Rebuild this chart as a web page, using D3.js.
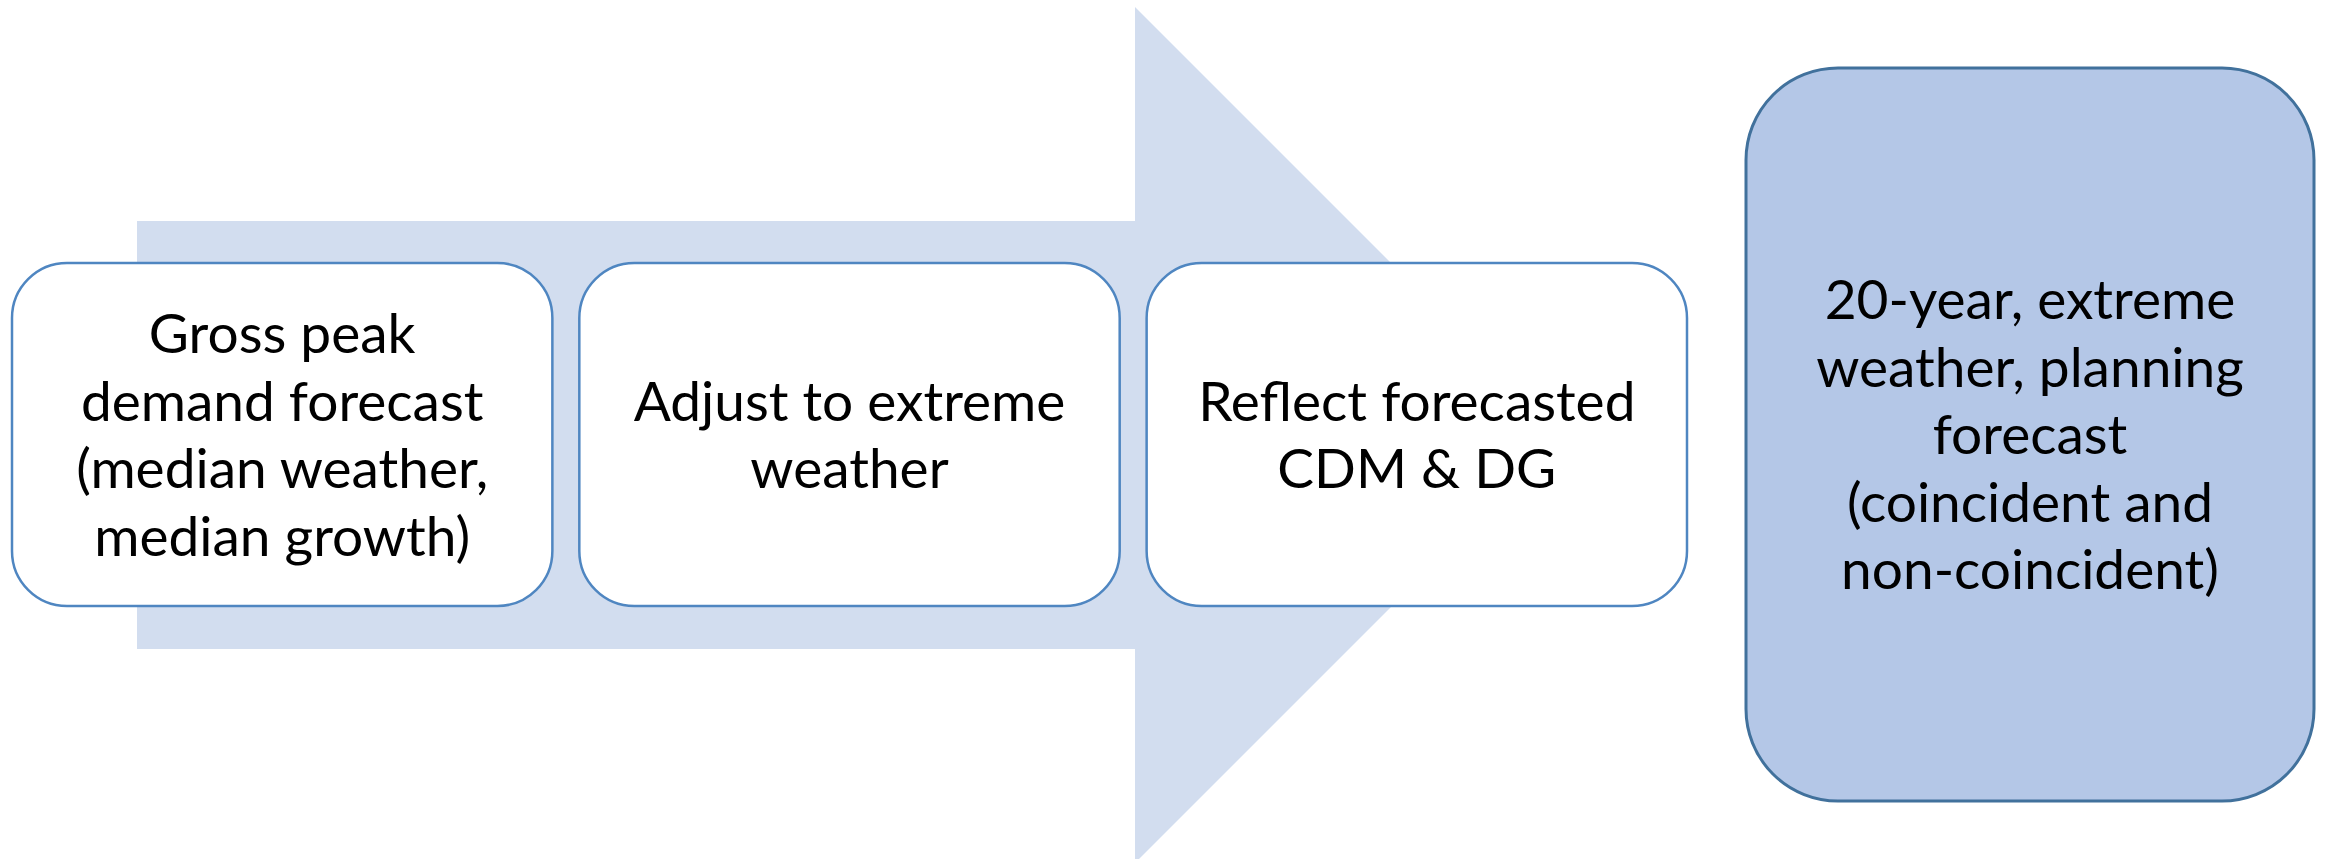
<!DOCTYPE html>
<html>
<head>
<meta charset="utf-8">
<script src="https://cdn.jsdelivr.net/npm/d3@7"></script>
<style>
  html, body { margin: 0; padding: 0; background: #fff; }
  svg { display: block; }
</style>
</head>
<body>
<div class="grafico"></div>
<script>
// pasos del proceso (cajas blancas sobre la flecha)
const pasos = ["Gross peak|demand forecast|(median weather,|median growth)",
               "Adjust to extreme|weather",
               "Reflect forecasted|CDM & DG"];
// resultado final (caja azul)
const resultado = "20-year, extreme|weather, planning|forecast|(coincident and|non-coincident)";

const width = 2330, height = 859;

const svg = d3.select(".grafico")
  .append("svg")
  .attr("width", width)
  .attr("height", height);

// flecha de fondo
const shaftTop = 221, shaftBottom = 649, shaftLeft = 137, headX = 1135;
const mid = (shaftTop + shaftBottom) / 2;
const headHalf = mid - 7;
const flecha = d3.path();
flecha.moveTo(shaftLeft, shaftTop);
flecha.lineTo(headX, shaftTop);
flecha.lineTo(headX, mid - headHalf);
flecha.lineTo(headX + headHalf, mid);
flecha.lineTo(headX, mid + headHalf);
flecha.lineTo(headX, shaftBottom);
flecha.lineTo(shaftLeft, shaftBottom);
flecha.closePath();

svg.append("path")
  .attr("d", flecha.toString())
  .attr("fill", "#d2ddef");

const xScale = d3.scaleBand()
  .domain(pasos.map((d, i) => i))
  .range([12, 1687])
  .paddingInner(0.0475);

const boxTop = 263, boxBottom = 606;
const lineH = 67.5;

function textoMultilinea(g, texto, cx, cy) {
  const lineas = texto.split("|");
  const t = g.append("text")
    .attr("text-anchor", "middle")
    .attr("font-family", "Lato, 'Open Sans', sans-serif")
    .attr("font-size", 55)
    .attr("fill", "#000");
  lineas.forEach((l, i) => {
    t.append("tspan")
      .attr("x", cx)
      .attr("y", cy + (i - (lineas.length - 1) / 2) * lineH)
      .attr("dy", "0.36em")
      .text(l);
  });
}

const cajas = svg.selectAll("g.paso")
  .data(pasos)
  .enter()
  .append("g")
  .attr("class", "paso");

cajas.append("rect")
  .attr("x", (d, i) => xScale(i))
  .attr("y", boxTop)
  .attr("width", xScale.bandwidth())
  .attr("height", boxBottom - boxTop)
  .attr("rx", 55)
  .attr("ry", 55)
  .attr("fill", "#fff")
  .attr("stroke", "#4f86c1")
  .attr("stroke-width", 2.5);

cajas.each(function(d, i) {
  textoMultilinea(d3.select(this), d, xScale(i) + xScale.bandwidth() / 2, (boxTop + boxBottom) / 2);
});

// caja final
const fin = svg.append("g");
fin.append("rect")
  .attr("x", 1746)
  .attr("y", 68)
  .attr("width", 2314 - 1746)
  .attr("height", 801 - 68)
  .attr("rx", 92)
  .attr("ry", 92)
  .attr("fill", "#b4c7e7")
  .attr("stroke", "#41719c")
  .attr("stroke-width", 3);

textoMultilinea(fin, resultado, (1746 + 2314) / 2, (68 + 801) / 2);
</script>
</body>
</html>
